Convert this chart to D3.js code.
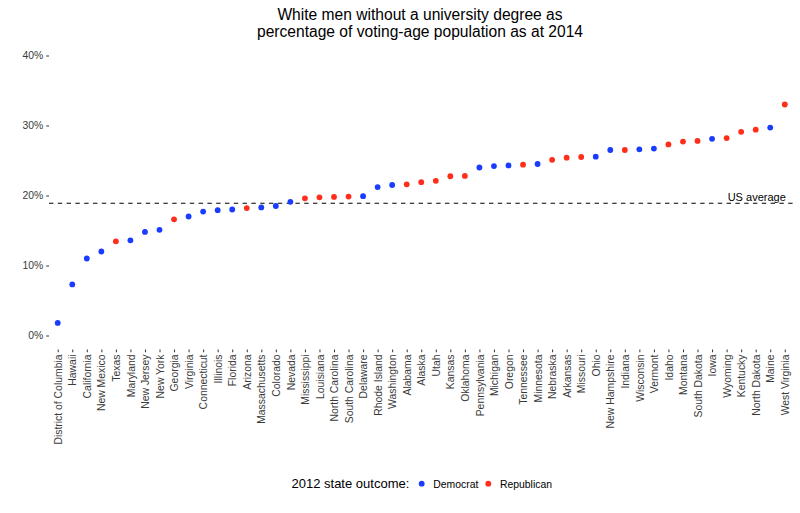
<!DOCTYPE html>
<html>
<head>
<meta charset="utf-8">
<script src="https://cdn.jsdelivr.net/npm/d3@7"></script>
<style>
  html, body { margin: 0; padding: 0; background: #fff; }
  svg { display: block; font-family: "Liberation Sans", Arial, sans-serif; }
</style>
</head>
<body>
<svg id="chart" width="800" height="513"></svg>
<script>
const states = ["District of Columbia","Hawaii","California","New Mexico","Texas","Maryland","New Jersey","New York","Georgia","Virginia","Connecticut","Illinois","Florida","Arizona","Massachusetts","Colorado","Nevada","Mississippi","Louisiana","North Carolina","South Carolina","Delaware","Rhode Island","Washington","Alabama","Alaska","Utah","Kansas","Oklahoma","Pennsylvania","Michigan","Oregon","Tennessee","Minnesota","Nebraska","Arkansas","Missouri","Ohio","New Hampshire","Indiana","Wisconsin","Vermont","Idaho","Montana","South Dakota","Iowa","Wyoming","Kentucky","North Dakota","Maine","West Virginia"];
const values = [1.8,7.3,11.0,12.0,13.45,13.6,14.8,15.1,16.6,17.0,17.7,17.9,18.0,18.2,18.3,18.5,19.1,19.6,19.74,19.8,19.85,19.9,21.2,21.5,21.6,21.9,22.1,22.75,22.8,24.0,24.2,24.3,24.4,24.5,25.1,25.4,25.5,25.55,26.5,26.5,26.6,26.7,27.3,27.7,27.8,28.1,28.2,29.1,29.4,29.7,33.0];
const outcomes = ["D","D","D","D","R","D","D","D","R","D","D","D","D","R","D","D","D","R","R","R","R","D","D","D","R","R","R","R","R","D","D","D","R","D","R","R","R","D","D","R","D","D","R","R","R","D","R","R","R","D","R"];
const usAverage = 18.9;
const yTicks = [0,10,20,30,40];
const legendLabels = {D: "Democrat", R: "Republican"};
const titleLines = ["White men without a university degree as","percentage of voting-age population as at 2014"];

const colors = {D: "#1a3cff", R: "#ff2d1a"};
const svg = d3.select("#chart");
const panel = {left: 49, right: 793.5, top: 41.5, bottom: 349.5};

const x = d3.scalePoint().domain(states).range([panel.left, panel.right]).padding(0.6);
const y = d3.scaleLinear().domain([-2, 42]).range([panel.bottom, panel.top]);

// title
svg.append("text").attr("x", 420).attr("y", 19.5).attr("text-anchor", "middle")
  .attr("font-size", "15.6px").attr("fill", "#000").text(titleLines[0]);
svg.append("text").attr("x", 420).attr("y", 36.5).attr("text-anchor", "middle")
  .attr("font-size", "15.6px").attr("fill", "#000").text(titleLines[1]);

// y axis
const yAxis = d3.axisLeft(y).tickValues(yTicks).tickSize(2.75).tickPadding(3)
  .tickFormat(d => d + "%");
const gy = svg.append("g").attr("transform", `translate(${panel.left},0)`).call(yAxis);
gy.select(".domain").remove();
gy.selectAll(".tick line").attr("stroke", "#333").attr("stroke-width", 1);
gy.selectAll(".tick text").attr("fill", "#3a3a3a").attr("font-size", "10.4px")
  .attr("font-family", "Liberation Sans, Arial, sans-serif");

// x axis
const xAxis = d3.axisBottom(x).tickSize(2.75).tickPadding(2);
const gx = svg.append("g").attr("transform", `translate(0,${panel.bottom})`).call(xAxis);
gx.select(".domain").remove();
gx.selectAll(".tick line").attr("stroke", "#333").attr("stroke-width", 1);
gx.selectAll(".tick text").attr("fill", "#3a3a3a").attr("font-size", "10.4px")
  .attr("font-family", "Liberation Sans, Arial, sans-serif")
  .attr("transform", "rotate(-90)")
  .attr("text-anchor", "end")
  .attr("x", -5).attr("y", 0).attr("dy", "0.35em");

// average line
svg.append("line").attr("x1", panel.left).attr("x2", panel.right)
  .attr("y1", y(usAverage)).attr("y2", y(usAverage))
  .attr("stroke", "#000").attr("stroke-width", 1.1).attr("stroke-dasharray", "4.4,4.4");
svg.append("text").attr("x", x(states[states.length - 1]) + 1).attr("y", y(usAverage) - 2.5)
  .attr("text-anchor", "end").attr("font-size", "11px").attr("fill", "#000").text("US average");

// points
svg.append("g").selectAll("circle").data(states).join("circle")
  .attr("cx", d => x(d))
  .attr("cy", (d, i) => y(values[i]))
  .attr("r", 2.9)
  .attr("fill", (d, i) => colors[outcomes[i]]);

// legend
const lg = svg.append("g");
lg.append("text").attr("x", 291.5).attr("y", 488).attr("font-size", "13px").attr("fill", "#000")
  .text("2012 state outcome:");
const items = [["D", 421.7, 433.3], ["R", 488.3, 500]];
items.forEach(([k, cx, tx]) => {
  lg.append("circle").attr("cx", cx).attr("cy", 483.7).attr("r", 2.9).attr("fill", colors[k]);
  lg.append("text").attr("x", tx).attr("y", 487.5).attr("font-size", "10.4px").attr("fill", "#000")
    .text(legendLabels[k]);
});
</script>
</body>
</html>
